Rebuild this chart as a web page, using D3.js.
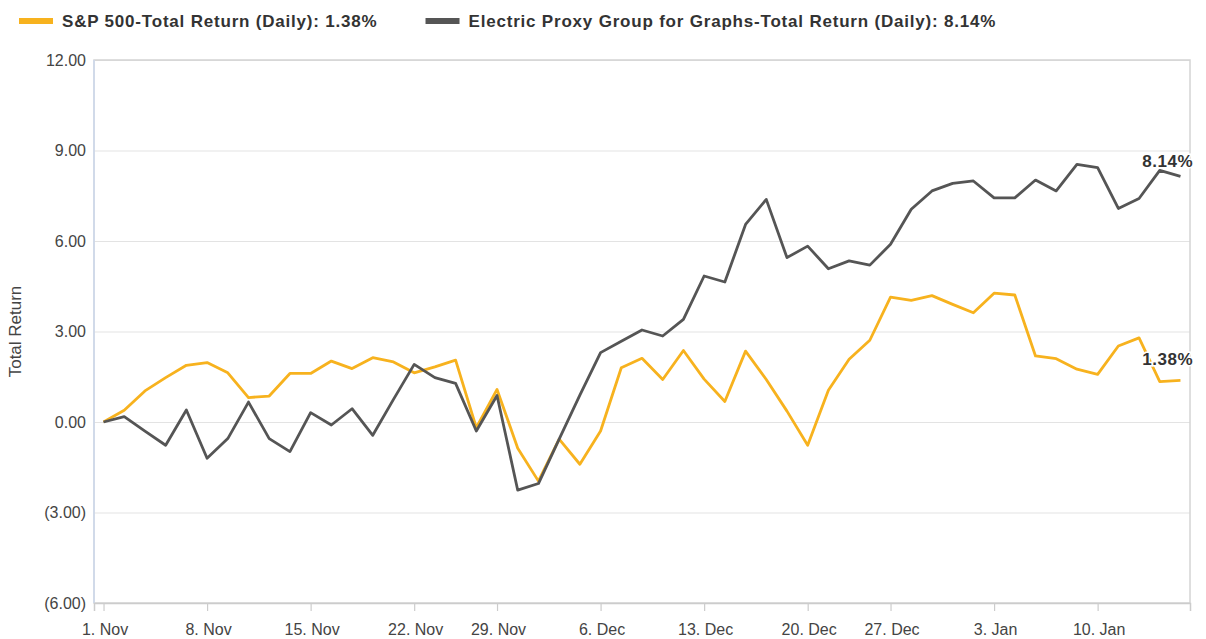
<!DOCTYPE html>
<meta charset="utf-8">
<style>
    body { margin: 0; background: #fff; }
    svg { font-family: "Liberation Sans", Arial, sans-serif; }
    .grid line { stroke: #e3e3e3; stroke-width: 1.2px; }
    .grid path { display: none; }
    .yAxis text, .xAxis text { fill: #444; font-size: 16px; }
    .lineChart { fill: none; stroke-width: 2.8px; stroke-linejoin: round; }
    .legend text { font-size: 17px; font-weight: bold; fill: #333; letter-spacing: 0.8px; }
    .endLabel { font-size: 17px; font-weight: bold; fill: #333; letter-spacing: 0.5px;
        paint-order: stroke; stroke: #fff; stroke-width: 3px; }
</style>

<svg width="1206" height="639"></svg>
<script src="https://d3js.org/d3.v7.min.js"></script>
<script>

    // trading days, 1 Nov 2021 - 14 Jan 2022
    var dates = [
        "2021-11-01", "2021-11-02", "2021-11-03", "2021-11-04", "2021-11-05",
        "2021-11-08", "2021-11-09", "2021-11-10", "2021-11-11", "2021-11-12",
        "2021-11-15", "2021-11-16", "2021-11-17", "2021-11-18", "2021-11-19",
        "2021-11-22", "2021-11-23", "2021-11-24", "2021-11-26",
        "2021-11-29", "2021-11-30", "2021-12-01", "2021-12-02", "2021-12-03",
        "2021-12-06", "2021-12-07", "2021-12-08", "2021-12-09", "2021-12-10",
        "2021-12-13", "2021-12-14", "2021-12-15", "2021-12-16", "2021-12-17",
        "2021-12-20", "2021-12-21", "2021-12-22", "2021-12-23",
        "2021-12-27", "2021-12-28", "2021-12-29", "2021-12-30", "2021-12-31",
        "2022-01-03", "2022-01-04", "2022-01-05", "2022-01-06", "2022-01-07",
        "2022-01-10", "2022-01-11", "2022-01-12", "2022-01-13", "2022-01-14"];

    var spReturn = [
        0.00, 0.39, 1.03, 1.47, 1.88, 1.97, 1.63, 0.81, 0.86, 1.61,
        1.61, 2.02, 1.77, 2.13, 1.99, 1.63, 1.83, 2.05, -0.19, 1.08,
        -0.87, -1.96, -0.57, -1.40, -0.30, 1.80, 2.11, 1.41, 2.37, 1.42,
        0.68, 2.35, 1.41, 0.36, -0.77, 1.05, 2.08, 2.71, 4.14, 4.03,
        4.19, 3.90, 3.62, 4.27, 4.21, 2.19, 2.10, 1.75, 1.58, 2.52,
        2.79, 1.34, 1.38];

    var electricReturn = [
        0.00, 0.18, -0.30, -0.77, 0.40, -1.20, -0.55, 0.66, -0.55, -0.98,
        0.31, -0.10, 0.44, -0.44, 0.75, 1.91, 1.47, 1.28, -0.30, 0.88,
        -2.26, -2.04, -0.57, 0.89, 2.30, 2.68, 3.05, 2.85, 3.40, 4.84,
        4.64, 6.55, 7.38, 5.45, 5.83, 5.08, 5.34, 5.20, 5.89, 7.05,
        7.66, 7.91, 7.99, 7.43, 7.43, 8.02, 7.66, 8.54, 8.43, 7.08,
        7.41, 8.34, 8.14];

    var series = ["S&P 500-Total Return (Daily): 1.38%",
        "Electric Proxy Group for Graphs-Total Return (Daily): 8.14%"];
    var endLabels = ["1.38%", "8.14%"];
    var colors = ["#f7b21e", "#555555"];

    var tickDates = ["2021-11-01", "2021-11-08", "2021-11-15", "2021-11-22", "2021-11-29",
        "2021-12-06", "2021-12-13", "2021-12-20", "2021-12-27", "2022-01-03", "2022-01-10"];
    var tickLabels = ["1. Nov", "8. Nov", "15. Nov", "22. Nov", "29. Nov",
        "6. Dec", "13. Dec", "20. Dec", "27. Dec", "3. Jan", "10. Jan"];

    var yTicks = [-6, -3, 0, 3, 6, 9, 12];

    var margin = { left: 94, top: 60, right: 16, bottom: 36 };
    var svg = d3.select("svg");
    var width = 1206 - margin.left - margin.right;
    var height = 639 - margin.top - margin.bottom;

    var svgG = svg.append("g")
        .attr("transform", "translate(" + margin.left + "," + margin.top + ")");

    var xScale = d3.scalePoint()
        .domain(dates)
        .range([0, width])
        .padding(0.46);

    var yScale = d3.scaleLinear()
        .domain([-6, 12])
        .range([height, 0]);

    var fmt = d3.format(".2f");
    function yFormat(v) { return v < 0 ? "(" + fmt(-v) + ")" : fmt(v); }

    // horizontal grid
    svgG.append("g")
        .attr("class", "grid")
        .call(d3.axisLeft(yScale).tickValues(yTicks).tickSize(-width).tickFormat(""));

    // plot border
    svgG.append("rect")
        .attr("width", width)
        .attr("height", height)
        .attr("fill", "none")
        .attr("stroke", "#d4d4d4")
        .attr("stroke-width", 1.5);

    svgG.append("line")
        .attr("y2", height)
        .attr("stroke", "#ccd8ec")
        .attr("stroke-width", 1.5);

    var yAxis = svgG.append("g")
        .attr("class", "yAxis")
        .call(d3.axisLeft(yScale).tickValues(yTicks).tickSize(0).tickPadding(8).tickFormat(yFormat));
    yAxis.select(".domain").remove();

    var labelMap = {};
    tickDates.forEach(function (d, i) { labelMap[d] = tickLabels[i]; });

    var xAxis = svgG.append("g")
        .attr("class", "xAxis")
        .attr("transform", "translate(0," + height + ")")
        .call(d3.axisBottom(xScale).tickValues(tickDates).tickSize(8).tickPadding(13)
            .tickFormat(function (d) { return labelMap[d]; }));
    xAxis.select(".domain").attr("stroke", "#cccccc").attr("stroke-width", 1.5);
    xAxis.selectAll(".tick line").attr("stroke", "#cccccc").attr("stroke-width", 1.2);
    xAxis.selectAll(".tick text").attr("dx", 1);

    svg.append("text")
        .attr("transform", "translate(21," + (margin.top + height / 2) + ") rotate(-90)")
        .attr("text-anchor", "middle")
        .attr("font-size", "17px")
        .attr("fill", "#444")
        .text("Total Return");

    var line = d3.line()
        .x(function (d, i) { return xScale(dates[i]); })
        .y(function (d) { return yScale(d); });

    var data = [spReturn, electricReturn];

    svgG.append("g")
        .selectAll("path")
        .data(data)
        .enter().append("path")
        .attr("class", "lineChart")
        .style("stroke", function (d, i) { return colors[i]; })
        .attr("d", line);

    // end labels
    var last = dates.length - 1;
    var labelDy = [-15, -9];
    svgG.append("g")
        .selectAll("text")
        .data(data)
        .enter().append("text")
        .attr("class", "endLabel")
        .attr("text-anchor", "end")
        .attr("x", width + 3)
        .attr("y", function (d, i) { return yScale(d[last]) + labelDy[i]; })
        .text(function (d, i) { return endLabels[i]; });

    // legend
    var legend = svg.append("g").attr("class", "legend");
    var lx = 19;
    series.forEach(function (s, i) {
        var item = legend.append("g").attr("transform", "translate(" + lx + ",21)");
        item.append("line")
            .attr("x2", 34)
            .attr("stroke", colors[i])
            .attr("stroke-width", 6);
        var t = item.append("text")
            .attr("x", 43)
            .attr("dy", "0.35em")
            .text(s);
        lx += 43 + t.node().getComputedTextLength() + 48;
    });

</script>
